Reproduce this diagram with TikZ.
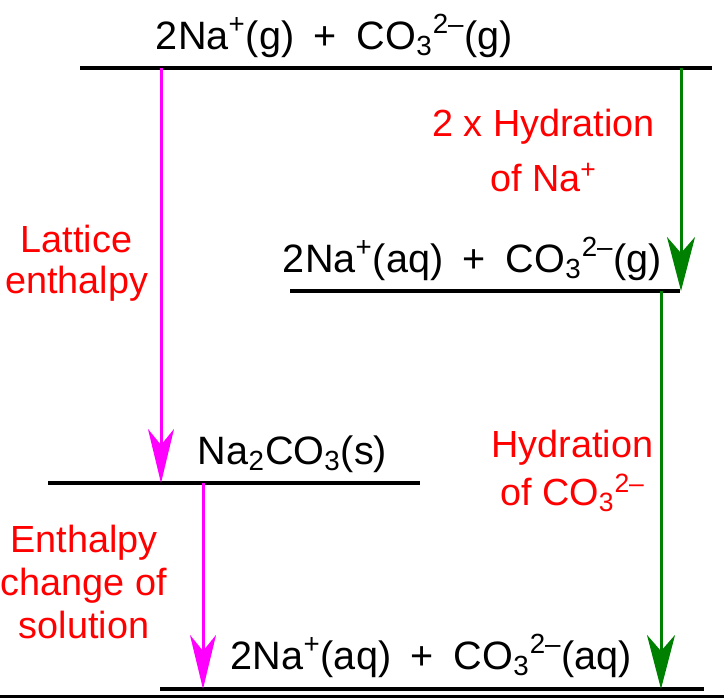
\documentclass[tikz,border=0pt]{standalone}
\usepackage{fontspec}
\setmainfont{Liberation Sans}
\usetikzlibrary{arrows.meta}
\definecolor{bhLattice}{HTML}{FF00FF}
\definecolor{bhHydr}{HTML}{008000}
\definecolor{bhLabel}{HTML}{FF0000}
\newcommand{\naplus}{Na\textsuperscript{+}}
\newcommand{\carb}{CO\textsubscript{3}\textsuperscript{2\textendash}}
\newcommand{\pl}{\hspace{0.5em}+\hspace{0.5em}}
\tikzset{
  lvl/.style={line width=2pt, black},
  species/.style={font=\fontsize{19.8}{22}\selectfont, anchor=base, inner sep=0pt},
  stepname/.style={species, font=\fontsize{18.9}{20.5}\selectfont, text=bhLabel, align=center},
  latt/.style={-{Stealth[length=27pt, width=13pt, inset=8pt]}, line width=1.5pt, bhLattice},
  hydr/.style={-{Stealth[length=27pt, width=14pt, inset=8pt]}, line width=1.5pt, bhHydr}
}
\begin{document}
\begin{tikzpicture}[x=0.5pt, y=-0.5pt]
  \useasboundingbox (0,0) rectangle (724,698);
  % energy levels
  \draw[lvl] (80,68) coordinate (gasW) -- (712,68) coordinate (gasE);
  \draw[lvl] (290,291) coordinate (naW) -- (680,291) coordinate (naE);
  \draw[lvl] (48,483) coordinate (solW) -- (420,483) coordinate (solE);
  \draw[lvl] (160,689) coordinate (aqW) -- (704,689) coordinate (aqE);
  \draw[line width=1.25pt] (0,696.5) coordinate (baseW) -- (724,696.5) coordinate (baseE);

  \node[species] (gas) at (334.5,49) {2\naplus(g)\pl\carb(g)};
  \node[species] (naaq) at (472.5,272) {2\naplus(aq)\pl\carb(g)};
  \node[species] (solid) at (292.5,464) {Na\textsubscript{2}CO\textsubscript{3}(s)};
  \node[species] (aq) at (431.5,669) {2\naplus(aq)\pl\carb(aq)};

  % cycle arrows
  \coordinate (lattTop) at (161,68);
  \coordinate (lattBot) at (161,483);
  \coordinate (solnTop) at (203,483);
  \coordinate (solnBot) at (203,689);
  \coordinate (hNaTop) at (681,68);
  \coordinate (hNaBot) at (681,291);
  \coordinate (hCoTop) at (661,291);
  \coordinate (hCoBot) at (661,689);
  \foreach \a/\b/\s in {lattTop/lattBot/latt, solnTop/solnBot/latt,
                        hNaTop/hNaBot/hydr, hCoTop/hCoBot/hydr}
    {\draw[\s] (\a) -- (\b);}

  % step names (anchored on the last line)
  \node[stepname] (hNa) at (543.5,191) {2 x Hydration\\[7pt]of \naplus};
  \node[stepname] (latt) at (76.5,293) {Lattice\\enthalpy};
  \node[stepname] (hCo) at (572.5,505) {Hydration\\[3.5pt]of \carb};
  \node[stepname] (soln) at (84,638) {Enthalpy\\[1pt]change of\\[1pt]solution};
\end{tikzpicture}
\end{document}
